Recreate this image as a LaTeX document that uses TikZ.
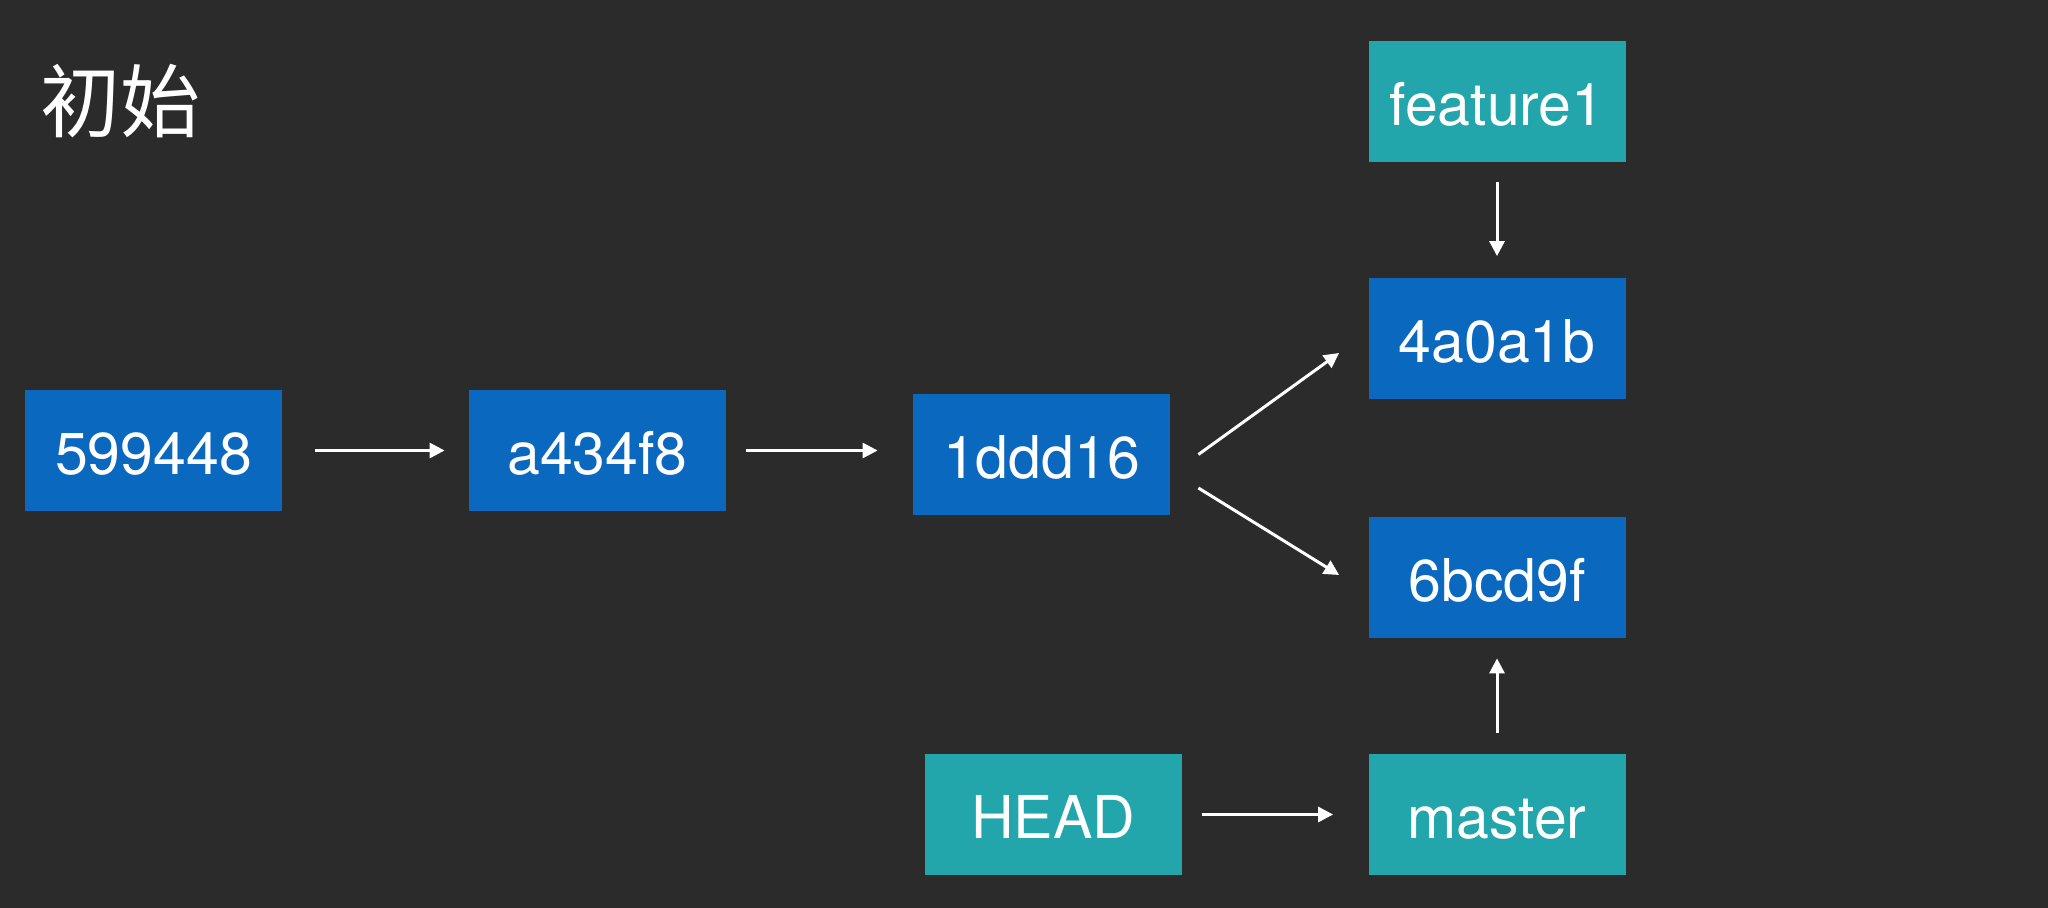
\documentclass[tikz,border=0pt]{standalone}
\usepackage{fontspec}
\setmainfont{TeX Gyre Heros}
\newfontfamily\cjk{Noto Sans CJK SC}
\usetikzlibrary{arrows.meta}
\definecolor{bg}{HTML}{2B2B2B}
\definecolor{commitblue}{HTML}{0B68BF}
\definecolor{refteal}{HTML}{23A6AB}

\begin{document}
\begin{tikzpicture}[x=0.5pt,y=-0.5pt,
  commit/.style = {fill=commitblue, text=white, minimum width=128.5pt, minimum height=60.5pt, inner sep=0pt, text height=23.6pt, text depth=0pt, font=\fontsize{29.5}{29.5}\selectfont},
  branch/.style = {commit, fill=refteal},
  arr/.style = {draw=white, line width=1.5pt, -{Triangle[length=7.5pt,width=7.5pt]}}]
        \fill[bg] (0,0) rectangle (2048,908);
        \useasboundingbox (0,0) rectangle (2048,908);
        \node[anchor=west, inner sep=0pt, text=white, font=\cjk\fontsize{40}{40}\selectfont] (title) at (40,101.5) {初始};
        % commits
        \node[commit] (c1) at (153.5,450.5) {599448};
        \node[commit] (c2) at (597.5,450.5) {a434f8};
        \node[commit] (c3) at (1041.5,454.5) {1ddd16};
        \node[commit] (c4) at (1497,339) {4a0a1b};
        \node[commit] (c5) at (1497,577.5) {6bcd9f};
        % branches
        \node[branch] (feature) at (1497,102) {feature1};
        \node[branch] (head) at (1053,814.5) {HEAD};
        \node[branch] (master) at (1497,814.5) {master};
        \draw[arr, shorten <=16.5pt, shorten >=12pt] (c1) -- (c2);
        \draw[arr, shorten <=10pt, shorten >=17.5pt] (c2.east) -- (c2.east -| c3.west);
        \draw[arr] ([xshift=14pt]c3.east) -- ([xshift=-14.5pt,yshift=-7pt]c4.west);
        \draw[arr] ([xshift=14pt,yshift=-16.75pt]c3.east) -- ([xshift=-14.5pt,yshift=1.25pt]c5.west);
        \draw[arr, shorten <=9.5pt, shorten >=11pt] (feature) -- (c4);
        \draw[arr, shorten <=10.5pt, shorten >=10pt] (master) -- (c5);
        \draw[arr, shorten <=10pt, shorten >=17.5pt] (head) -- (master);
\end{tikzpicture}
\end{document}
